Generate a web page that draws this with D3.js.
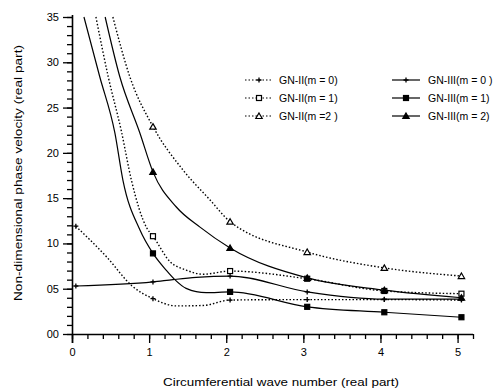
<!DOCTYPE html>
<html>
<head>
<meta charset="utf-8">
<script src="https://cdn.jsdelivr.net/npm/d3@7/dist/d3.min.js"></script>
<style>
  html, body { margin: 0; padding: 0; background: #fff; }
  text { font-family: "Liberation Sans", Arial, sans-serif; fill: #000; }
</style>
</head>
<body>
<svg id="chart" width="504" height="392"></svg>
<script>
// ---- data ----
const xTicks = [0, 1, 2, 3, 4, 5];
const xTickLabels = ["0", "1", "2", "3", "4", "5"];
const yTicks = [0, 5, 10, 15, 20, 25, 30, 35];
const yTickLabels = ["00", "05", "10", "15", "20", "25", "30", "35"];
const markerK = [0.05, 1.05, 2.05, 3.05, 4.05, 5.05];

const gn2m0K = [0.05, 0.45, 0.78, 1.05, 1.36, 1.7, 2.05, 3.05, 4.05, 5.05];
const gn2m0V = [11.9, 8.5, 5.3, 3.9, 3.1, 3.15, 3.75, 3.8, 3.8, 3.75];

const gn2m1K = [0.31, 0.47, 0.64, 0.77, 0.97, 1.05, 1.27, 1.48, 1.7, 2.05, 3.05, 4.05, 5.05];
const gn2m1V = [35, 28.4, 22.4, 17, 11.7, 10.8, 8.0, 7.06, 6.6, 6.95, 6.1, 4.75, 4.45];

const gn2m2K = [0.53, 0.75, 1.05, 1.44, 1.79, 2.05, 3.05, 4.05, 5.05];
const gn2m2V = [35, 28.4, 22.9, 18.1, 14.8, 12.4, 9.05, 7.3, 6.4];

const gn3m0K = [0.05, 1.05, 1.31, 1.61, 2.05, 3.05, 4.05, 5.05];
const gn3m0V = [5.3, 5.75, 6.0, 6.25, 6.4, 4.65, 3.85, 3.85];

const gn3m1K = [0.155, 0.36, 0.556, 0.66, 0.88, 1.05, 1.22, 1.33, 1.48, 1.74, 2.05, 3.05, 4.05, 5.05];
const gn3m1V = [35, 28.4, 22.2, 17, 11.5, 8.9, 7.06, 6.03, 5.04, 4.56, 4.65, 3.0, 2.4, 1.85];

const gn3m2K = [0.43, 0.62, 0.88, 1.05, 1.35, 1.66, 2.05, 3.05, 4.05, 5.05];
const gn3m2V = [35, 28.4, 22.2, 17.9, 14.05, 11.8, 9.5, 6.2, 4.85, 4.0];

const seriesNames = ["GN-II(m = 0)", "GN-II(m = 1)", "GN-II(m =2 )",
                     "GN-III(m = 0 )", "GN-III(m = 1)", "GN-III(m = 2)"];

const xTitle = "Circumferential wave number (real part)";
const yTitle = "Non-dimensional phase velocity (real part)";

// ---- styles (kept separate from data) ----
const styles = [
  { dash: "1.5,2", marker: "plus" },
  { dash: "1.5,2", marker: "osquare" },
  { dash: "1.5,2", marker: "otri" },
  { dash: null, marker: "plus" },
  { dash: null, marker: "fsquare" },
  { dash: null, marker: "ftri" }
];
const seriesK = [gn2m0K, gn2m1K, gn2m2K, gn3m0K, gn3m1K, gn3m2K];
const seriesV = [gn2m0V, gn2m1V, gn2m2V, gn3m0V, gn3m1V, gn3m2V];

const svg = d3.select("#chart");
const pLeft = 72, pTop = 17, pRight = 473, pBottom = 334;

const x = d3.scaleLinear().domain([0, 5.2]).range([pLeft, pRight]);
const y = d3.scaleLinear().domain([0, 35]).range([pBottom, pTop]);

// clip
svg.append("defs").append("clipPath").attr("id", "clip")
  .append("rect").attr("x", pLeft).attr("y", pTop - 1)
  .attr("width", pRight - pLeft + 2).attr("height", pBottom - pTop + 1);

// axes
const xMinor = d3.range(0, 5.21, 0.2);
const yMinor = d3.range(0, 35.01, 1);

const xAxisG = svg.append("g").attr("transform", `translate(0,${pBottom})`);
xAxisG.call(d3.axisBottom(x).tickValues(xMinor).tickSize(5).tickFormat(""));
xAxisG.call(g => g.select(".domain").remove());
const xMajG = svg.append("g").attr("transform", `translate(0,${pBottom})`)
  .call(d3.axisBottom(x).tickValues(xTicks).tickSize(9).tickPadding(5)
    .tickFormat((d, i) => xTickLabels[i]));
xMajG.select(".domain").attr("d", `M${pLeft},0.5H${pRight}`);

const yAxisG = svg.append("g").attr("transform", `translate(${pLeft},0)`);
yAxisG.call(d3.axisLeft(y).tickValues(yMinor).tickSize(5).tickFormat(""));
yAxisG.call(g => g.select(".domain").remove());
const yMajG = svg.append("g").attr("transform", `translate(${pLeft},0)`)
  .call(d3.axisLeft(y).tickValues(yTicks).tickSize(9).tickPadding(4)
    .tickFormat((d, i) => yTickLabels[i]));
yMajG.select(".domain").attr("d", `M0.5,${pTop - 2}V${pBottom + 9}`);

svg.selectAll(".tick line").attr("stroke", "#000").attr("stroke-width", 1.3);
svg.selectAll(".domain").attr("stroke", "#000").attr("stroke-width", 1.6);
svg.selectAll(".tick text").style("font-size", "11px").attr("fill", "#000")
  .style("font-family", "'Liberation Sans', Arial, sans-serif");

// titles
svg.append("text").attr("x", 281).attr("y", 386).attr("text-anchor", "middle")
  .style("font-size", "10.5px").attr("textLength", 236).attr("lengthAdjust", "spacingAndGlyphs")
  .text(xTitle);
svg.append("text").attr("transform", `translate(22,173) rotate(-90)`)
  .attr("text-anchor", "middle").style("font-size", "10.5px")
  .attr("textLength", 256).attr("lengthAdjust", "spacingAndGlyphs")
  .text(yTitle);

// marker drawer
function drawMarker(g, type, cx, cy) {
  if (type === "plus") {
    g.append("path").attr("d", `M${cx - 2.5},${cy}H${cx + 2.5}M${cx},${cy - 2.5}V${cy + 2.5}`)
      .attr("stroke", "#000").attr("stroke-width", 1.3).attr("fill", "none");
  } else if (type === "osquare" || type === "fsquare") {
    g.append("rect").attr("x", cx - 2.5).attr("y", cy - 2.5).attr("width", 5).attr("height", 5)
      .attr("fill", type === "fsquare" ? "#000" : "#fff").attr("stroke", "#000").attr("stroke-width", 1.2);
  } else {
    g.append("path").attr("d", `M${cx},${cy - 3}L${cx + 3.2},${cy + 2.5}L${cx - 3.2},${cy + 2.5}Z`)
      .attr("fill", type === "ftri" ? "#000" : "#fff").attr("stroke", "#000").attr("stroke-width", 1.2);
  }
}

const line = d3.line().x(d => x(d[0])).y(d => y(d[1])).curve(d3.curveMonotoneX);
const plot = svg.append("g").attr("clip-path", "url(#clip)");

seriesK.forEach((ks, i) => {
  const pts = ks.map((k, j) => [k, seriesV[i][j]]);
  const p = plot.append("path").datum(pts).attr("d", line)
    .attr("fill", "none").attr("stroke", "#000").attr("stroke-width", 1.2);
  if (styles[i].dash) p.attr("stroke-dasharray", styles[i].dash).attr("stroke-width", 1.4);
});
seriesK.forEach((ks, i) => {
  ks.forEach((k, j) => {
    if (markerK.includes(k)) drawMarker(svg, styles[i].marker, x(k), y(seriesV[i][j]));
  });
});

// legend
const legRows = [80, 98, 116];
const legCols = [{ x0: 245, x1: 273, tx: 279 }, { x0: 392, x1: 420, tx: 428 }];
seriesNames.forEach((name, i) => {
  const c = legCols[Math.floor(i / 3)], ry = legRows[i % 3];
  const l = svg.append("line").attr("x1", c.x0).attr("x2", c.x1).attr("y1", ry).attr("y2", ry)
    .attr("stroke", "#000").attr("stroke-width", 1.2);
  if (styles[i].dash) l.attr("stroke-dasharray", styles[i].dash);
  drawMarker(svg, styles[i].marker, (c.x0 + c.x1) / 2, ry);
  svg.append("text").attr("x", c.tx).attr("y", ry + 4).style("font-size", "10.5px").text(name);
});
</script>
</body>
</html>
